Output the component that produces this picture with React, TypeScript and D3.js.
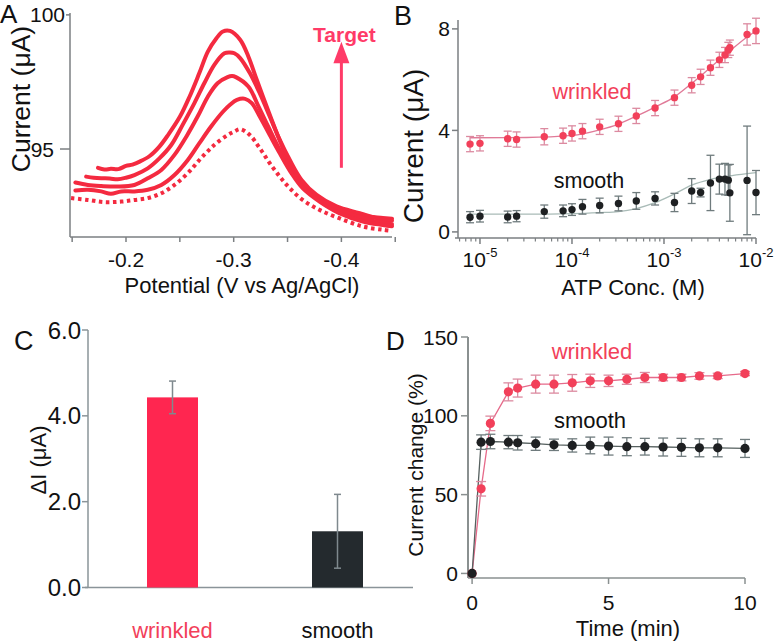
import React from 'react';
import * as d3 from 'd3';

const FONT = '"Liberation Sans", Arial, Helvetica, sans-serif';

// ---------- Panel A data (square-wave voltammograms) ----------
const aPot1 = [-0.174, -0.18, -0.186, -0.193, -0.2, -0.206, -0.2127, -0.222, -0.231, -0.239, -0.25, -0.259, -0.268, -0.276, -0.284, -0.29, -0.2966, -0.306, -0.3136, -0.3214, -0.3306, -0.34, -0.349, -0.358, -0.3705, -0.386, -0.4015, -0.42, -0.4385, -0.447];
const aCur1 = [94.3, 94.24, 94.26, 94.25, 94.37, 94.42, 94.53, 94.74, 95.09, 95.52, 96.2, 96.95, 97.82, 98.63, 99.13, 99.38, 99.4, 99.07, 98.45, 97.58, 96.59, 95.6, 94.73, 94.05, 93.37, 92.93, 92.68, 92.5, 92.43, 92.4];
const aPot2 = [-0.163, -0.17, -0.177, -0.185, -0.1923, -0.2, -0.2078, -0.2202, -0.231, -0.242, -0.2526, -0.2635, -0.2728, -0.282, -0.2914, -0.2966, -0.3006, -0.306, -0.315, -0.3242, -0.3335, -0.3428, -0.352, -0.363, -0.377, -0.3955, -0.417, -0.4385, -0.447];
const aCur2 = [93.97, 93.93, 93.91, 93.9, 93.87, 93.93, 94.03, 94.28, 94.65, 95.15, 95.9, 96.71, 97.46, 98.14, 98.57, 98.6, 98.57, 98.39, 97.83, 97.08, 96.21, 95.34, 94.6, 93.85, 93.29, 92.86, 92.61, 92.36, 92.33];
const aPot3 = [-0.153, -0.1646, -0.177, -0.1923, -0.2078, -0.2202, -0.2328, -0.245, -0.256, -0.2665, -0.276, -0.285, -0.2943, -0.2985, -0.302, -0.3136, -0.323, -0.332, -0.3428, -0.3536, -0.364, -0.3797, -0.398, -0.42, -0.4385, -0.447];
const aCur3 = [93.75, 93.66, 93.62, 93.6, 93.66, 93.91, 94.22, 94.78, 95.46, 96.21, 96.95, 97.45, 97.68, 97.72, 97.68, 97.33, 96.59, 95.84, 94.97, 94.23, 93.6, 93.1, 92.73, 92.42, 92.24, 92.2];
const aPot4 = [-0.153, -0.1646, -0.177, -0.186, -0.1955, -0.2078, -0.2202, -0.2328, -0.245, -0.2574, -0.268, -0.279, -0.29, -0.2966, -0.303, -0.3106, -0.3168, -0.3242, -0.3335, -0.3428, -0.3536, -0.364, -0.3797, -0.398, -0.42, -0.4385, -0.447];
const aCur4 = [93.45, 93.48, 93.42, 93.33, 93.42, 93.42, 93.48, 93.66, 94.03, 94.59, 95.21, 95.84, 96.39, 96.65, 96.83, 96.87, 96.71, 96.21, 95.52, 94.84, 94.1, 93.54, 93.04, 92.61, 92.3, 92.17, 92.12];
const aPotBlank = [-0.149, -0.1646, -0.18, -0.1955, -0.2078, -0.2202, -0.2328, -0.245, -0.2574, -0.2695, -0.282, -0.2943, -0.3006, -0.306, -0.315, -0.3242, -0.3335, -0.3428, -0.352, -0.364, -0.3797, -0.398, -0.42, -0.4385, -0.447];
const aCurBlank = [93.17, 93.1, 93.02, 93.04, 93.1, 93.17, 93.35, 93.66, 94.1, 94.65, 95.15, 95.52, 95.65, 95.74, 95.52, 95.03, 94.47, 93.97, 93.54, 93.1, 92.73, 92.42, 92.11, 91.99, 91.95];
const aXMajor = [-0.2, -0.3, -0.4];
const aXMinor = [-0.15, -0.25, -0.35, -0.45];
const aYTicks = [95, 100];

// ---------- Panel B data (calibration) ----------
const bConc = [7.8e-6, 1e-5, 2e-5, 2.5e-5, 5e-5, 8e-5, 1e-4, 1.3e-4, 2e-4, 3.2e-4, 5e-4, 8e-4, 1.3e-3, 2e-3, 2.5e-3, 3.2e-3, 4e-3, 4.6e-3, 5e-3, 5.2e-3, 8e-3, 1e-2];
const bWrinkled = [3.46, 3.49, 3.67, 3.64, 3.75, 3.79, 3.88, 3.97, 4.14, 4.26, 4.57, 4.88, 5.29, 5.78, 6.11, 6.47, 6.78, 6.97, 7.17, 7.26, 7.78, 7.92];
const bWrinkledErr = [0.3, 0.3, 0.3, 0.3, 0.32, 0.3, 0.3, 0.3, 0.3, 0.3, 0.3, 0.3, 0.3, 0.3, 0.3, 0.3, 0.3, 0.3, 0.3, 0.3, 0.42, 0.5];
const bSmooth = [0.58, 0.62, 0.59, 0.62, 0.8, 0.83, 0.88, 0.99, 1.04, 1.12, 1.22, 1.32, 1.16, 1.61, 1.55, 1.93, 2.08, 2.08, 2.04, 1.54, 2.03, 1.55];
const bSmoothErr = [0.22, 0.23, 0.23, 0.22, 0.26, 0.23, 0.23, 0.29, 0.29, 0.29, 0.33, 0.26, 0.36, 0.49, 0.17, 1.09, 0.59, 0.62, 0.6, 1.12, 2.14, 0.87];
const bFitConc = [7.8e-6, 3.2e-5, 1e-4, 2e-4, 3.2e-4, 5e-4, 8e-4, 1.3e-3, 2e-3, 3.2e-3, 5e-3, 8e-3, 1e-2];
const bFitWrinkled = [3.71, 3.72, 3.8, 4.02, 4.25, 4.56, 4.92, 5.32, 5.85, 6.48, 7.08, 7.68, 7.93];
const bFitSmooth = [0.7, 0.7, 0.72, 0.76, 0.8, 0.92, 1.15, 1.5, 1.84, 2.07, 2.2, 2.3, 2.34];
const bYTicks = [0, 4, 8];
const bXMajorExp = [-5, -4, -3, -2];

// ---------- Panel C data (bar chart) ----------
const cCats = ['wrinkled', 'smooth'];
const cValues = [4.43, 1.31];
const cErr = [0.38, 0.86];
const cYTicks = [0, 2, 4, 6];

// ---------- Panel D data (time course) ----------
const dTime = [0, 0.33, 0.67, 1.33, 1.67, 2.33, 3, 3.67, 4.33, 5, 5.67, 6.33, 7, 7.67, 8.33, 9, 10];
const dWrinkled = [0, 53.7, 95.2, 115.2, 117.6, 120.1, 120.1, 120.9, 122.2, 122.2, 123.2, 124.3, 124.3, 124.3, 125.3, 125.3, 126.8];
const dWrinkledErr = [0, 4.6, 4.6, 5.7, 5.7, 5.7, 5.7, 5.3, 4.2, 3.6, 3.2, 3.2, 2.1, 2.1, 2.1, 1.7, 1.3];
const dSmooth = [0, 83.3, 83.7, 83.3, 82.9, 82.3, 81.6, 81.2, 81.2, 80.8, 80.4, 80.4, 80.2, 80.0, 79.7, 79.7, 79.3];
const dSmoothErr = [0, 4.6, 4.6, 4.2, 4.6, 4.2, 3.6, 4.2, 5.3, 5.7, 5.7, 5.3, 5.7, 5.7, 5.7, 5.7, 5.7];
const dXTicks = [0, 5, 10];
const dYTicks = [0, 50, 100, 150];

const AXIS = '#7b7f82';
const TXT = '#111';
const CURVE_RED = '#f42a40';
const POINT_RED = '#f2405a';
const FIT_PINK = '#e07a98';
const ERR_PINK = '#dc8aa0';
const DARK = '#1e2022';
const FIT_GRAY = '#a9bbb7';
const ERR_GRAY = '#6f7b7d';

function zip(xs: number[], ys: number[]) {
  return xs.map((x, i) => [x, ys[i]] as [number, number]);
}

export default function App() {
  // ---------- scales ----------
  const xA = d3.scaleLinear().domain([-0.148, -0.447]).range([70, 392]);
  const yA = d3.scaleLinear().domain([91.72, 100.07]).range([237, 13]);

  const xB = d3.scaleLog().domain([5.77e-6, 0.01]).range([458, 756]);
  const yB = d3.scaleLinear().domain([-0.24, 8.35]).range([238, 20]);

  const xC = d3.scaleBand().domain(cCats).range([90, 420]).paddingInner(0.691).paddingOuter(0.3455);
  const yC = d3.scaleLinear().domain([0, 6]).range([587.5, 330]);

  const xD = d3.scaleLinear().domain([-0.15, 10]).range([468, 745]);
  const yD = d3.scaleLinear().domain([-2.9, 150]).range([578, 337]);

  const lineA = d3.line<[number, number]>().x(d => xA(d[0])).y(d => yA(d[1])).curve(d3.curveCatmullRom);
  const lineB = d3.line<[number, number]>().x(d => xB(d[0])).y(d => yB(d[1])).curve(d3.curveMonotoneX);
  const lineD = d3.line<[number, number]>().x(d => xD(d[0])).y(d => yD(d[1]));

  const aCurves = [zip(aPot1, aCur1), zip(aPot2, aCur2), zip(aPot3, aCur3), zip(aPot4, aCur4)];
  const aBlank = zip(aPotBlank, aCurBlank);

  const bMinor = xB.ticks().filter(t => Math.abs(Math.log10(t) - Math.round(Math.log10(t))) > 1e-6);

  const errBar = (x: number, y0: number, y1: number, color: string, cap: number, w: number, key: string) => (
    <g key={key} stroke={color} strokeWidth={w} fill="none">
      <line x1={x} x2={x} y1={y0} y2={y1} />
      <line x1={x - cap} x2={x + cap} y1={y0} y2={y0} />
      <line x1={x - cap} x2={x + cap} y1={y1} y2={y1} />
    </g>
  );

  return (
    <svg width={776} height={644} style={{ position: 'absolute', left: 0, top: 0, background: '#fff' }} fontFamily={FONT}>
      <rect x={0} y={0} width={776} height={644} fill="#fff" />

      {/* ================= Panel A ================= */}
      <text x={0} y={23} fontSize={26} fill={TXT}>A</text>
      <line x1={xA.range()[0]} x2={xA.range()[0]} y1={yA.range()[1]} y2={yA.range()[0]} stroke={AXIS} strokeWidth={1.5} />
      <line x1={xA.range()[0]} x2={xA.range()[1]} y1={yA.range()[0]} y2={yA.range()[0]} stroke={AXIS} strokeWidth={1.5} />
      {aYTicks.map((t, i) => (
        <g key={'ay' + t}>
          <line x1={70 - (i === 0 ? 10 : 4)} x2={70} y1={yA(t)} y2={yA(t)} stroke={AXIS} strokeWidth={1.5} />
          <text x={i === 0 ? 54 : 65} y={yA(t)} dy="0.36em" textAnchor="end" fontSize={21} fill={TXT}>{t}</text>
        </g>
      ))}
      {aXMajor.concat(aXMinor).map(t => (
        <line key={'axt' + t} x1={xA(t)} x2={xA(t)} y1={237} y2={242} stroke={AXIS} strokeWidth={1.5} />
      ))}
      {aXMajor.map(t => (
        <text key={'axl' + t} x={xA(t)} y={267} textAnchor="middle" fontSize={21} fill={TXT}>{t.toFixed(1)}</text>
      ))}
      <text x={242} y={293} textAnchor="middle" fontSize={22} fill={TXT}>Potential (V vs Ag/AgCl)</text>
      <text transform="translate(21,99) rotate(-90)" textAnchor="middle" dominantBaseline="central" fontSize={26.5} fill={TXT}>Current (μA)</text>

      {aCurves.map((c, i) => (
        <path key={'ac' + i} d={lineA(c) || ''} fill="none" stroke={CURVE_RED} strokeWidth={4} strokeLinejoin="round" strokeLinecap="round" />
      ))}
      <path d={lineA(aBlank) || ''} fill="none" stroke={CURVE_RED} strokeWidth={4} strokeDasharray="3.5 3.5" />

      {/* arrow + Target */}
      <line x1={xA(-0.4)} x2={xA(-0.4)} y1={yA(94.3)} y2={yA(98.3)} stroke="#ff3b68" strokeWidth={3} />
      <path d={`M${xA(-0.4)},${yA(99.0)} L${xA(-0.4) - 8},${yA(98.2)} L${xA(-0.4) + 8},${yA(98.2)} Z`} fill="#ff3b68" />
      <text x={xA(-0.4) + 3} y={42} textAnchor="middle" fontSize={21} fontWeight="bold" fill="#ff3b68">Target</text>

      {/* ================= Panel B ================= */}
      <text x={394} y={25} fontSize={27} fill={TXT}>B</text>
      <line x1={458} x2={458} y1={yB.range()[1]} y2={yB.range()[0]} stroke={AXIS} strokeWidth={1.5} />
      <line x1={455} x2={756} y1={yB.range()[0]} y2={yB.range()[0]} stroke={AXIS} strokeWidth={1.5} />
      {bYTicks.map(t => (
        <g key={'by' + t}>
          <line x1={452} x2={458} y1={yB(t)} y2={yB(t)} stroke={AXIS} strokeWidth={1.5} />
          <text x={450} y={yB(t)} dy="0.36em" textAnchor="end" fontSize={21} fill={TXT}>{t}</text>
        </g>
      ))}
      {bMinor.map(t => (
        <line key={'bmin' + t} x1={xB(t)} x2={xB(t)} y1={238} y2={241.5} stroke={AXIS} strokeWidth={1.2} />
      ))}
      {bXMajorExp.map(e => (
        <g key={'bmaj' + e}>
          <line x1={xB(Math.pow(10, e))} x2={xB(Math.pow(10, e))} y1={238} y2={244} stroke={AXIS} strokeWidth={1.5} />
          <text x={xB(Math.pow(10, e))} y={267} textAnchor="middle" fontSize={21} fill={TXT}>
            10<tspan fontSize={13} dy={-10}>{e}</tspan>
          </text>
        </g>
      ))}
      <text x={633} y={295} textAnchor="middle" fontSize={22} fill={TXT}>ATP Conc. (M)</text>
      <text transform="translate(413,146) rotate(-90)" textAnchor="middle" dominantBaseline="central" fontSize={28} fill={TXT}>Current (μA)</text>

      <path d={lineB(zip(bFitConc, bFitWrinkled)) || ''} fill="none" stroke={FIT_PINK} strokeWidth={1.3} />
      <path d={lineB(zip(bFitConc, bFitSmooth)) || ''} fill="none" stroke={FIT_GRAY} strokeWidth={1.3} />
      {bConc.map((c, i) => errBar(xB(c), yB(bWrinkled[i] + bWrinkledErr[i]), yB(bWrinkled[i] - bWrinkledErr[i]), ERR_PINK, 4, 1.3, 'bwe' + i))}
      {bConc.map((c, i) => errBar(xB(c), yB(bSmooth[i] + bSmoothErr[i]), yB(bSmooth[i] - bSmoothErr[i]), ERR_GRAY, 4, 1.3, 'bse' + i))}
      {bConc.map((c, i) => <circle key={'bwp' + i} cx={xB(c)} cy={yB(bWrinkled[i])} r={3.7} fill={POINT_RED} />)}
      {bConc.map((c, i) => <circle key={'bsp' + i} cx={xB(c)} cy={yB(bSmooth[i])} r={3.7} fill={DARK} />)}
      <text x={592} y={99} textAnchor="middle" fontSize={21.5} fill={POINT_RED}>wrinkled</text>
      <text x={589} y={188} textAnchor="middle" fontSize={21.5} fill={TXT}>smooth</text>

      {/* ================= Panel C ================= */}
      <text x={14} y={350} fontSize={27} fill={TXT}>C</text>
      <line x1={88} x2={88} y1={yC.range()[1]} y2={yC.range()[0]} stroke="#8a9499" strokeWidth={1.5} />
      <line x1={85} x2={413} y1={yC(0)} y2={yC(0)} stroke="#8a9499" strokeWidth={1.5} />
      {cYTicks.map(t => (
        <g key={'cy' + t}>
          <line x1={82} x2={88} y1={yC(t)} y2={yC(t)} stroke="#8a9499" strokeWidth={1.5} />
          <text x={81} y={yC(t)} dy="0.36em" textAnchor="end" fontSize={24} fill={TXT}>{t.toFixed(1)}</text>
        </g>
      ))}
      <text transform="translate(38,460) rotate(-90)" textAnchor="middle" dominantBaseline="central" fontSize={22} fill={TXT}>ΔI (μA)</text>
      {cCats.map((c, i) => (
        <rect key={'cb' + c} x={xC(c)} y={yC(cValues[i])} width={xC.bandwidth()} height={yC(0) - yC(cValues[i])} fill={i === 0 ? '#ff2650' : '#242a2e'} />
      ))}
      {cCats.map((c, i) => errBar((xC(c) || 0) + xC.bandwidth() / 2, yC(cValues[i] + cErr[i]), yC(cValues[i] - cErr[i]), '#7f898e', 3.5, 1.5, 'ce' + i))}
      {cCats.map((c, i) => (
        <text key={'cl' + c} x={(xC(c) || 0) + xC.bandwidth() / 2} y={638} textAnchor="middle" fontSize={22} fill={i === 0 ? POINT_RED : TXT}>{c}</text>
      ))}

      {/* ================= Panel D ================= */}
      <text x={386} y={350} fontSize={26} fill={TXT}>D</text>
      <line x1={468} x2={468} y1={yD.range()[1]} y2={yD.range()[0]} stroke="#8a9090" strokeWidth={2} />
      <line x1={468} x2={745} y1={578} y2={578} stroke="#8a9090" strokeWidth={1.5} />
      {dYTicks.map(t => (
        <g key={'dy' + t}>
          <line x1={461} x2={468} y1={yD(t)} y2={yD(t)} stroke="#8a9090" strokeWidth={1.5} />
          <text x={458} y={yD(t)} dy="0.36em" textAnchor="end" fontSize={21} fill={TXT}>{t}</text>
        </g>
      ))}
      {dXTicks.map(t => (
        <g key={'dx' + t}>
          <line x1={xD(t)} x2={xD(t)} y1={578} y2={584} stroke="#8a9090" strokeWidth={1.5} />
          <text x={xD(t)} y={610} textAnchor="middle" fontSize={21} fill={TXT}>{t}</text>
        </g>
      ))}
      <text x={628} y={636} textAnchor="middle" fontSize={22} fill={TXT}>Time (min)</text>
      <text transform="translate(415,465) rotate(-90)" textAnchor="middle" dominantBaseline="central" fontSize={21} fill={TXT}>Current change (%)</text>

      <path d={lineD(zip(dTime, dWrinkled)) || ''} fill="none" stroke="#e66a8a" strokeWidth={1.3} />
      <path d={lineD(zip(dTime, dSmooth)) || ''} fill="none" stroke="#56605f" strokeWidth={1.3} />
      {dTime.map((t, i) => dWrinkledErr[i] > 0 ? errBar(xD(t), yD(dWrinkled[i] + dWrinkledErr[i]), yD(dWrinkled[i] - dWrinkledErr[i]), ERR_PINK, 5, 1.3, 'dwe' + i) : null)}
      {dTime.map((t, i) => dSmoothErr[i] > 0 ? errBar(xD(t), yD(dSmooth[i] + dSmoothErr[i]), yD(dSmooth[i] - dSmoothErr[i]), ERR_GRAY, 5, 1.3, 'dse' + i) : null)}
      {dTime.map((t, i) => <circle key={'dwp' + i} cx={xD(t)} cy={yD(dWrinkled[i])} r={4.6} fill={POINT_RED} />)}
      {dTime.map((t, i) => <circle key={'dsp' + i} cx={xD(t)} cy={yD(dSmooth[i])} r={4.6} fill={DARK} />)}
      <text x={592} y={359} textAnchor="middle" fontSize={22} fill={POINT_RED}>wrinkled</text>
      <text x={590} y={428} textAnchor="middle" fontSize={22} fill={TXT}>smooth</text>
    </svg>
  );
}
